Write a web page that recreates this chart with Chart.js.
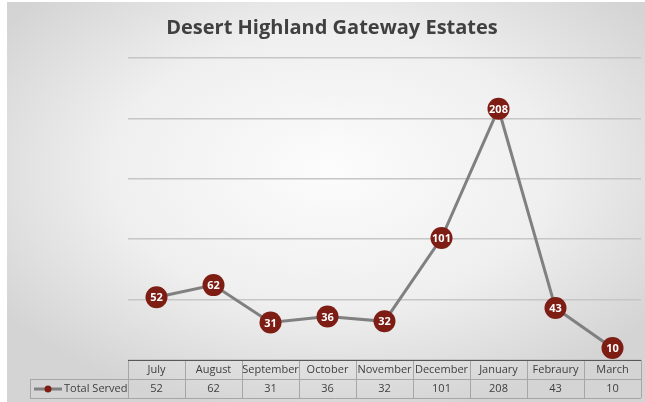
<!DOCTYPE html>
<html>
<head>
<meta charset="utf-8">
<script src="https://cdn.jsdelivr.net/npm/chart.js"></script>
<style>
  html, body { margin: 0; padding: 0; background: #fff; }
  #wrap { width: 645px; height: 402px; }
</style>
</head>
<body>
<div id="wrap"><canvas id="chart"></canvas></div>
<script>
const chartTitle = 'Desert Highland Gateway Estates';
const seriesName = 'Total Served';
const months = ['July', 'August', 'September', 'October', 'November', 'December', 'January', 'Febraury', 'March'];
const totalServed = [52, 62, 31, 36, 32, 101, 208, 43, 10];
const yTicks = [0, 50, 100, 150, 200, 250];

const FONT = '"Open Sans", "Liberation Sans", sans-serif';
const MARKER = '#7e1d14';
const LINE = '#808080';
const TEXT = '#404040';

// soft grey vignette behind everything
const backgroundPlugin = {
  id: 'background',
  beforeDraw(chart) {
    const ctx = chart.ctx;
    ctx.save();
    ctx.fillStyle = '#fff';
    ctx.fillRect(0, 0, chart.width, chart.height);
    ctx.translate(330, 170);
    ctx.scale(1, 0.62);
    const g = ctx.createRadialGradient(0, 0, 0, 0, 0, 400);
    g.addColorStop(0, '#fcfcfc');
    g.addColorStop(0.55, '#efefef');
    g.addColorStop(1, '#d4d4d4');
    ctx.fillStyle = g;
    ctx.fillRect(-323, -168 / 0.62, 638, 400 / 0.62 + 10);
    ctx.restore();
  }
};

const titlePlugin = {
  id: 'chartTitle',
  afterDraw(chart) {
    const ctx = chart.ctx;
    ctx.save();
    ctx.font = 'bold 20px ' + FONT;
    ctx.fillStyle = TEXT;
    ctx.textAlign = 'center';
    ctx.textBaseline = 'middle';
    ctx.fillText(chartTitle, 332, 28);
    ctx.restore();
  }
};

// white value inside each marker
const pointLabelPlugin = {
  id: 'pointLabels',
  afterDatasetsDraw(chart) {
    const ctx = chart.ctx;
    const meta = chart.getDatasetMeta(0);
    ctx.save();
    ctx.font = 'bold 11px ' + FONT;
    ctx.fillStyle = '#fff';
    ctx.textAlign = 'center';
    ctx.textBaseline = 'middle';
    meta.data.forEach((pt, i) => {
      ctx.fillText(String(totalServed[i]), pt.x, pt.y + 1);
    });
    ctx.restore();
  }
};

// data table under the plot
const tablePlugin = {
  id: 'dataTable',
  afterDraw(chart) {
    const ctx = chart.ctx;
    const xs = chart.scales.x;
    const area = chart.chartArea;
    const top = area.bottom;
    const mid = top + 19;
    const bottom = top + 38;
    const step = (area.right - area.left) / months.length;
    const legendLeft = 30;

    ctx.save();
    ctx.lineWidth = 1;
    ctx.strokeStyle = '#a6a6a6';
    ctx.beginPath();
    ctx.moveTo(legendLeft, mid + 0.5); ctx.lineTo(area.right, mid + 0.5);
    ctx.moveTo(legendLeft, bottom + 0.5); ctx.lineTo(area.right, bottom + 0.5);
    ctx.moveTo(legendLeft + 0.5, mid); ctx.lineTo(legendLeft + 0.5, bottom);
    for (let i = 0; i <= months.length; i++) {
      const x = Math.round(area.left + i * step) + 0.5;
      ctx.moveTo(x, top); ctx.lineTo(x, bottom);
    }
    ctx.stroke();

    ctx.strokeStyle = '#595959';
    ctx.beginPath();
    ctx.moveTo(area.left, top + 0.5); ctx.lineTo(area.right, top + 0.5);
    ctx.stroke();

    ctx.font = '11px ' + FONT;
    ctx.fillStyle = TEXT;
    ctx.textAlign = 'center';
    ctx.textBaseline = 'middle';
    months.forEach((m, i) => {
      const x = xs.getPixelForValue(i);
      ctx.fillText(m, x, top + 10);
      ctx.fillText(String(totalServed[i]), x, mid + 10);
    });

    // legend key
    ctx.strokeStyle = LINE;
    ctx.lineWidth = 3;
    ctx.beginPath();
    ctx.moveTo(34, mid + 10); ctx.lineTo(62, mid + 10);
    ctx.stroke();
    ctx.fillStyle = MARKER;
    ctx.beginPath();
    ctx.arc(48, mid + 10, 3.5, 0, Math.PI * 2);
    ctx.fill();
    ctx.fillStyle = TEXT;
    ctx.textAlign = 'left';
    ctx.fillText(seriesName, 64, mid + 10);
    ctx.restore();
  }
};

new Chart(document.getElementById('chart'), {
  type: 'line',
  data: {
    labels: months,
    datasets: [{
      label: seriesName,
      data: totalServed,
      borderColor: LINE,
      borderWidth: 3,
      pointRadius: 11,
      pointHoverRadius: 11,
      pointBackgroundColor: MARKER,
      pointBorderColor: MARKER,
      pointBorderWidth: 0,
      tension: 0
    }]
  },
  options: {
    responsive: true,
    maintainAspectRatio: false,
    animation: false,
    layout: { autoPadding: false, padding: { left: 128, right: 4, top: 58, bottom: 42 } },
    plugins: {
      legend: { display: false },
      title: { display: false },
      tooltip: { enabled: false }
    },
    scales: {
      x: { display: false, offset: true },
      y: {
        min: yTicks[0],
        max: yTicks[yTicks.length - 1],
        afterBuildTicks: (axis) => { axis.ticks = yTicks.map(v => ({ value: v })); },
        ticks: { display: false },
        border: { display: false },
        grid: { color: '#c6c6c6', lineWidth: 1.5, drawTicks: false }
      }
    }
  },
  plugins: [backgroundPlugin, titlePlugin, pointLabelPlugin, tablePlugin]
});
</script>
</body>
</html>
